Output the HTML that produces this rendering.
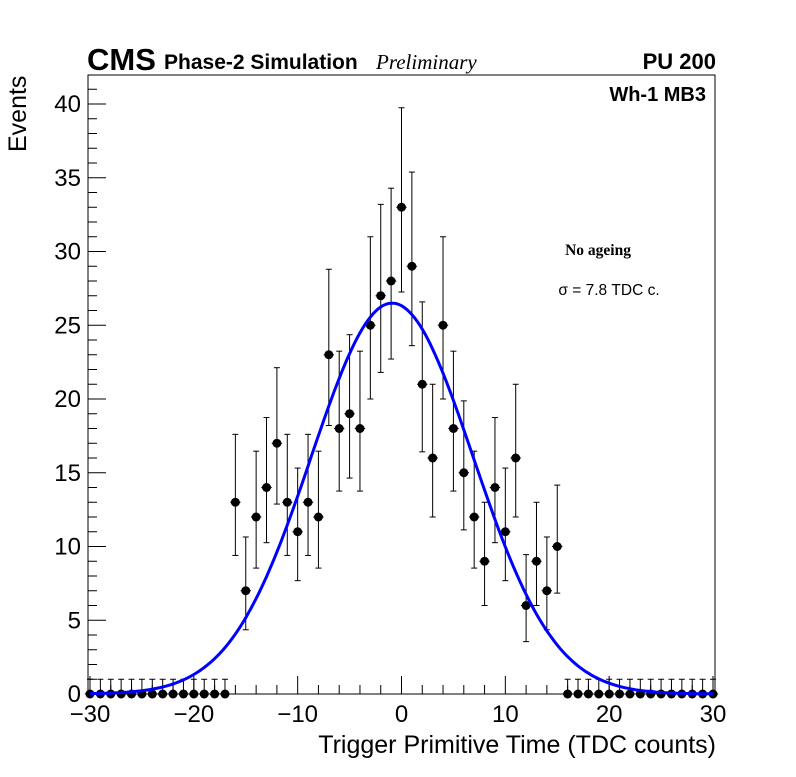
<!DOCTYPE html>
<html><head><meta charset="utf-8"><style>
body{margin:0;background:#fff}
svg text{font-family:"Liberation Sans",sans-serif}
</style></head><body>
<svg id="chart" width="796" height="772" xmlns="http://www.w3.org/2000/svg">
<rect width="796" height="772" fill="#fff"/>
<rect x="88" y="75" width="627" height="619" fill="none" stroke="#000" stroke-width="1"/>
<g id="axes"></g>
<g id="marks"></g>
<text x="87" y="70" font-size="31" font-weight="bold">CMS</text>
<text x="164" y="69" font-size="21" font-weight="bold">Phase-2 Simulation</text>
<text x="376" y="69" font-size="21" font-style="italic" style="font-family:'Liberation Serif',serif">Preliminary</text>
<text x="716" y="69" font-size="22" font-weight="bold" text-anchor="end">PU 200</text>
<text x="706" y="101" font-size="20" font-weight="bold" text-anchor="end">Wh-1 MB3</text>
<text x="598" y="255" font-size="15.5" font-weight="bold" text-anchor="middle" style="font-family:'Liberation Serif',serif">No ageing</text>
<text x="609" y="295" font-size="15.5" text-anchor="middle">σ = 7.8 TDC c.</text>
<text x="716" y="753" font-size="25" text-anchor="end">Trigger Primitive Time (TDC counts)</text>
<text transform="translate(26,152) rotate(-90)" font-size="25">Events</text>
</svg>
<script>
const binCenters=[-30,-29,-28,-27,-26,-25,-24,-23,-22,-21,-20,-19,-18,-17,-16,-15,-14,-13,-12,-11,-10,-9,-8,-7,-6,-5,-4,-3,-2,-1,0,1,2,3,4,5,6,7,8,9,10,11,12,13,14,15,16,17,18,19,20,21,22,23,24,25,26,27,28,29,30];
const counts=[0,0,0,0,0,0,0,0,0,0,0,0,0,0,13,7,12,14,17,13,11,13,12,23,18,19,18,25,27,28,33,29,21,16,25,18,15,12,9,14,11,16,6,9,7,10,0,0,0,0,0,0,0,0,0,0,0,0,0,0,0];
const fitAmp=26.5, fitMean=-0.9, fitSigma=7.8;
const xTicks=[-30,-20,-10,0,10,20,30];
const yTicks=[0,5,10,15,20,25,30,35,40];
const NS="http://www.w3.org/2000/svg";
const X=v=>90+(v+30)*(713-90)/60;
const Y=v=>694-v*(694-104)/40;
function mk(tag,at,parent){const e=document.createElementNS(NS,tag);for(const k in at)e.setAttribute(k,at[k]);parent.appendChild(e);return e;}
const ax=document.getElementById('axes'), mg=document.getElementById('marks');
for(let v=-30;v<=30;v+=2){const len=v%10===0?18:9;
 const t=mk('line',{x1:X(v),x2:X(v),y1:694,y2:694-len,stroke:'#000'},ax);
 
 }
xTicks.forEach(v=>{const t=mk('text',{x:X(v),y:722,'font-size':24,'text-anchor':'middle'},ax);t.textContent=v<0?'\u2212'+(-v):v;
 
 });
for(let v=0;v<=41;v++){const len=v%5===0?18:9;
 const t=mk('line',{x1:88,x2:88+len,y1:Y(v),y2:Y(v),stroke:'#000'},ax);
 
 }
yTicks.forEach(v=>{const t=mk('text',{x:81,y:Y(v)+8,'font-size':24,'text-anchor':'end'},ax);t.textContent=v;
 
 });
binCenters.forEach((c,i)=>{const n=counts[i];const s=Math.sqrt(n);const up=n+s+1,dn=Math.max(0,n-s);
 const g=mk('g',{},mg);
 
 
 mk('line',{x1:X(c),x2:X(c),y1:Y(up),y2:Y(dn),stroke:'#000','stroke-width':1},g);
 mk('line',{x1:X(c)-3,x2:X(c)+3,y1:Y(up),y2:Y(up),stroke:'#000'},g);
 if(n>0)mk('line',{x1:X(c)-3,x2:X(c)+3,y1:Y(dn),y2:Y(dn),stroke:'#000'},g);
 mk('line',{x1:X(c-0.5),x2:X(c+0.5),y1:Y(n),y2:Y(n),stroke:'#000'},g);
 mk('circle',{cx:X(c),cy:Y(n),r:4.5,fill:'#000'},g);});
let d='';for(let x=-30;x<=30.001;x+=0.25){const y=fitAmp*Math.exp(-0.5*Math.pow((x-fitMean)/fitSigma,2));d+=(d?'L':'M')+X(x).toFixed(1)+','+Y(y).toFixed(1);}
const p=mk('path',{d:d,fill:'none',stroke:'#0000ff','stroke-width':3},mg);


</script>
</body></html>
